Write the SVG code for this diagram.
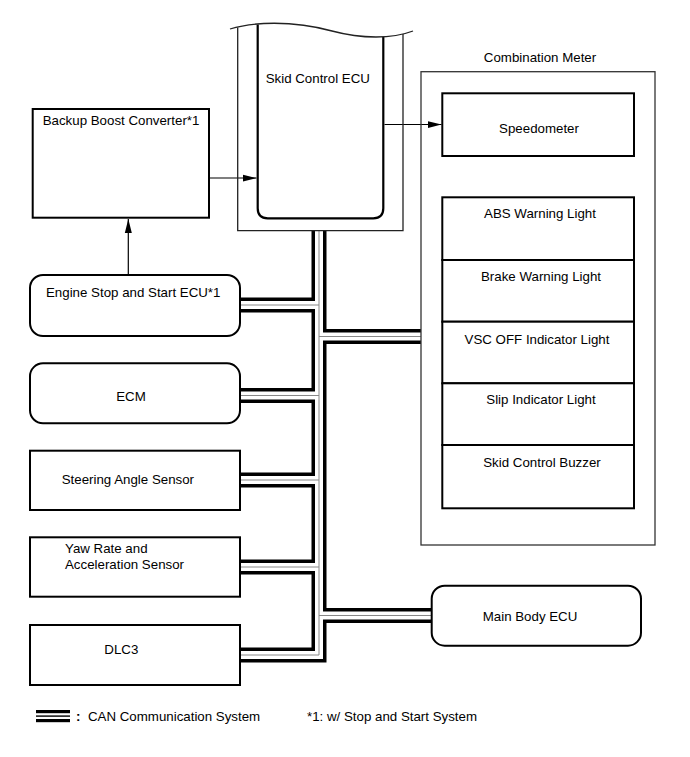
<svg xmlns="http://www.w3.org/2000/svg" width="690" height="757" viewBox="0 0 690 757">
<defs>
<style>
text{font-family:"Liberation Sans",Arial,sans-serif;font-size:13.3px;fill:#000}
.box{fill:#fff;stroke:#000;stroke-width:2}
.thin{fill:none;stroke:#222;stroke-width:1.3}
.ln{fill:none;stroke:#000;stroke-width:1.2}
.busB{fill:none;stroke:#000;stroke-width:15;stroke-linejoin:miter}
.busW{fill:none;stroke:#fff;stroke-width:8;stroke-linejoin:miter}
.busG{fill:none;stroke:#888;stroke-width:1}
.c{text-anchor:middle}
</style>
<marker id="arr" markerWidth="14" markerHeight="8" refX="14" refY="4" orient="auto" markerUnits="userSpaceOnUse"><path d="M0,0.5 L14,4 L0,7.5 z" fill="#000"/></marker>
</defs>
<rect width="690" height="757" fill="#fff"/>
<g id="connectors">
<g class="busB">
<path d="M319,231 V655 H240"/><path d="M240,305 H319"/><path d="M240,395.5 H319"/><path d="M240,480 H319"/><path d="M240,567 H319"/><path d="M319,336.5 H421"/><path d="M319,615.5 H431"/>
</g>
<g class="busW">
<path d="M319,231 V655 H240"/><path d="M240,305 H319"/><path d="M240,395.5 H319"/><path d="M240,480 H319"/><path d="M240,567 H319"/><path d="M319,336.5 H421"/><path d="M319,615.5 H431"/>
</g>
<g class="busG">
<path d="M319,231 V655 H240"/><path d="M240,305 H319"/><path d="M240,395.5 H319"/><path d="M240,480 H319"/><path d="M240,567 H319"/><path d="M319,336.5 H421"/><path d="M319,615.5 H431"/>
</g>
<path class="ln" d="M209,178 H256.5" marker-end="url(#arr)"/>
<path class="ln" d="M128.3,275 V219" marker-end="url(#arr)"/>
<path class="ln" d="M384.5,124.5 H441.5" marker-end="url(#arr)"/>
</g>
<g id="skid-control-ecu">
<path class="thin" d="M237.7,27.5 V230.7 H403 V34"/>
<path d="M257.7,24.5 V208.3 Q257.7,218.3 267.7,218.3 H373.3 Q383.3,218.3 383.3,208.3 V37" fill="none" stroke="#000" stroke-width="2.2"/>
<path class="thin" d="M230,29 C252,22 292,20 332,31 C362,39 392,39 413,31"/>
<text x="265.7" y="83">Skid Control ECU</text>
</g>
<g id="backup-boost-converter">
<rect class="box" x="32.7" y="109" width="176.3" height="108.7"/>
<text x="42.7" y="125">Backup Boost Converter*1</text>
</g>
<g id="engine-stop-start-ecu">
<rect class="box" x="30" y="275" width="210" height="61" rx="13"/>
<text x="46" y="297">Engine Stop and Start ECU*1</text>
</g>
<g id="ecm">
<rect class="box" x="30" y="363.3" width="210" height="60" rx="13"/>
<text class="c" x="131" y="401">ECM</text>
</g>
<g id="steering-angle-sensor">
<rect class="box" x="30" y="450.7" width="210" height="59.3"/>
<text x="61.7" y="484">Steering Angle Sensor</text>
</g>
<g id="yaw-rate-sensor">
<rect class="box" x="30" y="537.3" width="210" height="59.4"/>
<text x="65" y="552.7">Yaw Rate and</text>
<text x="65" y="569">Acceleration Sensor</text>
</g>
<g id="dlc3">
<rect class="box" x="30" y="625" width="210" height="60"/>
<text x="104.3" y="654">DLC3</text>
</g>
<g id="combination-meter">
<rect x="421" y="71.7" width="234" height="473.3" fill="none" stroke="#333" stroke-width="1.3"/>
<text class="c" x="540" y="62">Combination Meter</text>
</g>
<g id="speedometer">
<rect class="box" x="442.3" y="93.3" width="191.7" height="62.7"/>
<text class="c" x="539" y="133">Speedometer</text>
</g>
<g id="abs-warning-light">
<rect class="box" x="442.3" y="197.3" width="191.7" height="62.7"/>
<text class="c" x="540" y="218">ABS Warning Light</text>
</g>
<g id="brake-warning-light">
<rect class="box" x="442.3" y="260" width="191.7" height="61.7"/>
<text class="c" x="541" y="281">Brake Warning Light</text>
</g>
<g id="vsc-off-indicator-light">
<rect class="box" x="442.3" y="321.7" width="191.7" height="61.6"/>
<text class="c" x="537" y="344">VSC OFF Indicator Light</text>
</g>
<g id="slip-indicator-light">
<rect class="box" x="442.3" y="383.3" width="191.7" height="61.7"/>
<text class="c" x="541" y="404.3">Slip Indicator Light</text>
</g>
<g id="skid-control-buzzer">
<rect class="box" x="442.3" y="445" width="191.7" height="63.3"/>
<text class="c" x="542" y="466.7">Skid Control Buzzer</text>
</g>
<g id="main-body-ecu">
<rect class="box" x="431.7" y="585.7" width="209.3" height="60" rx="13"/>
<text class="c" x="530" y="621">Main Body ECU</text>
</g>
<g id="legend">
<rect x="36" y="710" width="34" height="3.2" fill="#000"/>
<rect x="36" y="715.4" width="34" height="1.4" fill="#000"/>
<rect x="36" y="719" width="34" height="3.2" fill="#000"/>
<text x="76" y="721" font-weight="bold">:</text>
<text x="88" y="721">CAN Communication System</text>
<text x="307" y="721">*1: w/ Stop and Start System</text>
</g>
</svg>
